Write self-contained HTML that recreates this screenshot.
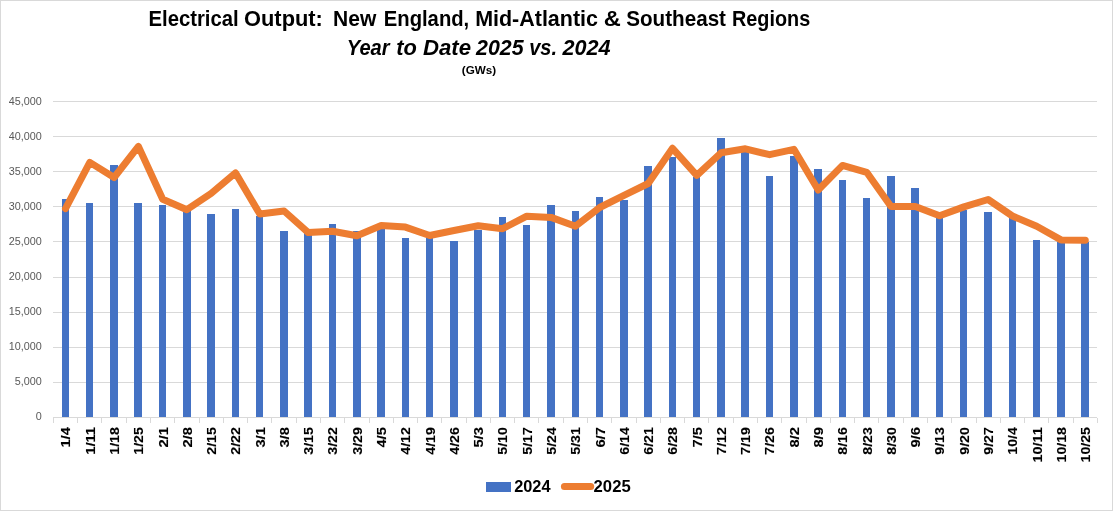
<!DOCTYPE html>
<html lang="en">
<head>
<meta charset="utf-8">
<title>Electrical Output: New England, Mid-Atlantic &amp; Southeast Regions</title>
<style>
html,body{margin:0;padding:0;background:#fff;}
body{width:1113px;height:511px;overflow:hidden;}
svg{display:block;font-family:"Liberation Sans", sans-serif;}
.t1{font-weight:700;font-size:22px;fill:#000;}
.t2{font-weight:700;font-style:italic;font-size:22px;fill:#000;}
.t3{font-weight:700;font-size:11px;fill:#000;}
.yl{font-size:10.8px;fill:#595959;text-anchor:end;}
.xl{font-weight:700;font-size:12.6px;fill:#000;text-anchor:end;stroke:#000;stroke-width:0.12px;}
.lg{font-weight:700;font-size:15.8px;fill:#000;}
</style>
</head>
<body>
<svg width="1113" height="511" viewBox="0 0 1113 511">
<rect x="0" y="0" width="1113" height="511" fill="#ffffff"/>
<rect x="0.5" y="0.5" width="1112" height="510" fill="none" stroke="#D9D9D9" stroke-width="1"/>
<g stroke="#D9D9D9" stroke-width="1" shape-rendering="crispEdges">
<line x1="53.4" y1="101.5" x2="1097.4" y2="101.5"/>
<line x1="53.4" y1="136.5" x2="1097.4" y2="136.5"/>
<line x1="53.4" y1="171.5" x2="1097.4" y2="171.5"/>
<line x1="53.4" y1="206.5" x2="1097.4" y2="206.5"/>
<line x1="53.4" y1="241.5" x2="1097.4" y2="241.5"/>
<line x1="53.4" y1="277.5" x2="1097.4" y2="277.5"/>
<line x1="53.4" y1="312.5" x2="1097.4" y2="312.5"/>
<line x1="53.4" y1="347.5" x2="1097.4" y2="347.5"/>
<line x1="53.4" y1="382.5" x2="1097.4" y2="382.5"/>
<line x1="53.4" y1="417.5" x2="1097.4" y2="417.5"/>
<line x1="53.5" y1="417.5" x2="53.5" y2="423.0"/>
<line x1="77.5" y1="417.5" x2="77.5" y2="423.0"/>
<line x1="101.5" y1="417.5" x2="101.5" y2="423.0"/>
<line x1="126.5" y1="417.5" x2="126.5" y2="423.0"/>
<line x1="150.5" y1="417.5" x2="150.5" y2="423.0"/>
<line x1="174.5" y1="417.5" x2="174.5" y2="423.0"/>
<line x1="199.5" y1="417.5" x2="199.5" y2="423.0"/>
<line x1="223.5" y1="417.5" x2="223.5" y2="423.0"/>
<line x1="247.5" y1="417.5" x2="247.5" y2="423.0"/>
<line x1="271.5" y1="417.5" x2="271.5" y2="423.0"/>
<line x1="296.5" y1="417.5" x2="296.5" y2="423.0"/>
<line x1="320.5" y1="417.5" x2="320.5" y2="423.0"/>
<line x1="344.5" y1="417.5" x2="344.5" y2="423.0"/>
<line x1="369.5" y1="417.5" x2="369.5" y2="423.0"/>
<line x1="393.5" y1="417.5" x2="393.5" y2="423.0"/>
<line x1="417.5" y1="417.5" x2="417.5" y2="423.0"/>
<line x1="441.5" y1="417.5" x2="441.5" y2="423.0"/>
<line x1="466.5" y1="417.5" x2="466.5" y2="423.0"/>
<line x1="490.5" y1="417.5" x2="490.5" y2="423.0"/>
<line x1="514.5" y1="417.5" x2="514.5" y2="423.0"/>
<line x1="538.5" y1="417.5" x2="538.5" y2="423.0"/>
<line x1="563.5" y1="417.5" x2="563.5" y2="423.0"/>
<line x1="587.5" y1="417.5" x2="587.5" y2="423.0"/>
<line x1="611.5" y1="417.5" x2="611.5" y2="423.0"/>
<line x1="636.5" y1="417.5" x2="636.5" y2="423.0"/>
<line x1="660.5" y1="417.5" x2="660.5" y2="423.0"/>
<line x1="684.5" y1="417.5" x2="684.5" y2="423.0"/>
<line x1="708.5" y1="417.5" x2="708.5" y2="423.0"/>
<line x1="733.5" y1="417.5" x2="733.5" y2="423.0"/>
<line x1="757.5" y1="417.5" x2="757.5" y2="423.0"/>
<line x1="781.5" y1="417.5" x2="781.5" y2="423.0"/>
<line x1="806.5" y1="417.5" x2="806.5" y2="423.0"/>
<line x1="830.5" y1="417.5" x2="830.5" y2="423.0"/>
<line x1="854.5" y1="417.5" x2="854.5" y2="423.0"/>
<line x1="878.5" y1="417.5" x2="878.5" y2="423.0"/>
<line x1="903.5" y1="417.5" x2="903.5" y2="423.0"/>
<line x1="927.5" y1="417.5" x2="927.5" y2="423.0"/>
<line x1="951.5" y1="417.5" x2="951.5" y2="423.0"/>
<line x1="976.5" y1="417.5" x2="976.5" y2="423.0"/>
<line x1="1000.5" y1="417.5" x2="1000.5" y2="423.0"/>
<line x1="1024.5" y1="417.5" x2="1024.5" y2="423.0"/>
<line x1="1048.5" y1="417.5" x2="1048.5" y2="423.0"/>
<line x1="1073.5" y1="417.5" x2="1073.5" y2="423.0"/>
<line x1="1097.5" y1="417.5" x2="1097.5" y2="423.0"/>
</g>
<g fill="#4472C4" shape-rendering="crispEdges">
<rect x="61.65" y="199.0" width="7.5" height="218.0"/>
<rect x="85.93" y="203.0" width="7.5" height="214.0"/>
<rect x="110.21" y="165.2" width="7.5" height="251.8"/>
<rect x="134.49" y="203.0" width="7.5" height="214.0"/>
<rect x="158.77" y="204.9" width="7.5" height="212.1"/>
<rect x="183.05" y="211.0" width="7.5" height="206.0"/>
<rect x="207.32" y="213.8" width="7.5" height="203.2"/>
<rect x="231.60" y="209.1" width="7.5" height="207.9"/>
<rect x="255.88" y="215.7" width="7.5" height="201.3"/>
<rect x="280.16" y="231.2" width="7.5" height="185.8"/>
<rect x="304.44" y="233.3" width="7.5" height="183.7"/>
<rect x="328.72" y="224.2" width="7.5" height="192.8"/>
<rect x="353.00" y="230.9" width="7.5" height="186.1"/>
<rect x="377.28" y="228.0" width="7.5" height="189.0"/>
<rect x="401.56" y="238.0" width="7.5" height="179.0"/>
<rect x="425.84" y="236.9" width="7.5" height="180.1"/>
<rect x="450.12" y="241.1" width="7.5" height="175.9"/>
<rect x="474.39" y="229.5" width="7.5" height="187.5"/>
<rect x="498.67" y="217.1" width="7.5" height="199.9"/>
<rect x="522.95" y="225.1" width="7.5" height="191.9"/>
<rect x="547.23" y="205.2" width="7.5" height="211.8"/>
<rect x="571.51" y="211.3" width="7.5" height="205.7"/>
<rect x="595.79" y="197.2" width="7.5" height="219.8"/>
<rect x="620.07" y="200.0" width="7.5" height="217.0"/>
<rect x="644.35" y="165.9" width="7.5" height="251.1"/>
<rect x="668.63" y="157.0" width="7.5" height="260.0"/>
<rect x="692.91" y="176.5" width="7.5" height="240.5"/>
<rect x="717.18" y="138.0" width="7.5" height="279.0"/>
<rect x="741.46" y="151.6" width="7.5" height="265.4"/>
<rect x="765.74" y="176.0" width="7.5" height="241.0"/>
<rect x="790.02" y="155.8" width="7.5" height="261.2"/>
<rect x="814.30" y="169.0" width="7.5" height="248.0"/>
<rect x="838.58" y="180.0" width="7.5" height="237.0"/>
<rect x="862.86" y="198.1" width="7.5" height="218.9"/>
<rect x="887.14" y="176.0" width="7.5" height="241.0"/>
<rect x="911.42" y="188.0" width="7.5" height="229.0"/>
<rect x="935.70" y="216.0" width="7.5" height="201.0"/>
<rect x="959.98" y="209.6" width="7.5" height="207.4"/>
<rect x="984.25" y="212.2" width="7.5" height="204.8"/>
<rect x="1008.53" y="218.0" width="7.5" height="199.0"/>
<rect x="1032.81" y="240.0" width="7.5" height="177.0"/>
<rect x="1057.09" y="241.5" width="7.5" height="175.5"/>
<rect x="1081.37" y="242.0" width="7.5" height="175.0"/>
</g>
<polyline fill="none" stroke="#ED7D31" stroke-width="7" stroke-linejoin="round" stroke-linecap="round" points="65.5,208.7 89.8,162.4 114.1,177.5 138.4,146.4 162.7,199.3 186.9,209.7 211.2,193.4 235.5,172.9 259.8,214.0 284.1,211.0 308.3,232.6 332.6,231.3 356.9,235.7 381.2,225.5 405.4,227.1 429.7,235.5 454.0,230.5 478.3,225.7 502.6,228.7 526.8,216.2 551.1,217.4 575.4,226.2 599.7,207.5 624.0,195.3 648.2,183.5 672.5,148.3 696.8,175.4 721.1,152.8 745.4,148.8 769.6,154.7 793.9,149.3 818.2,190.0 842.5,165.4 866.7,172.3 891.0,206.5 915.3,206.5 939.6,215.8 963.9,206.9 988.1,199.5 1012.4,216.0 1036.7,226.3 1061.0,239.9 1085.3,240.2"/>
<text class="yl" x="41.7" y="105.2">45,000</text>
<text class="yl" x="41.7" y="140.2">40,000</text>
<text class="yl" x="41.7" y="175.1">35,000</text>
<text class="yl" x="41.7" y="210.1">30,000</text>
<text class="yl" x="41.7" y="245.1">25,000</text>
<text class="yl" x="41.7" y="280.1">20,000</text>
<text class="yl" x="41.7" y="315.0">15,000</text>
<text class="yl" x="41.7" y="350.0">10,000</text>
<text class="yl" x="41.7" y="385.0">5,000</text>
<text class="yl" x="41.7" y="419.9">0</text>
<text class="xl" transform="translate(70.3 427.2) rotate(-90)" textLength="20.4" lengthAdjust="spacingAndGlyphs">1/4</text>
<text class="xl" transform="translate(94.6 427.2) rotate(-90)" textLength="27.5" lengthAdjust="spacingAndGlyphs">1/11</text>
<text class="xl" transform="translate(118.9 427.2) rotate(-90)" textLength="27.5" lengthAdjust="spacingAndGlyphs">1/18</text>
<text class="xl" transform="translate(143.2 427.2) rotate(-90)" textLength="27.5" lengthAdjust="spacingAndGlyphs">1/25</text>
<text class="xl" transform="translate(167.5 427.2) rotate(-90)" textLength="20.4" lengthAdjust="spacingAndGlyphs">2/1</text>
<text class="xl" transform="translate(191.7 427.2) rotate(-90)" textLength="20.4" lengthAdjust="spacingAndGlyphs">2/8</text>
<text class="xl" transform="translate(216.0 427.2) rotate(-90)" textLength="27.5" lengthAdjust="spacingAndGlyphs">2/15</text>
<text class="xl" transform="translate(240.3 427.2) rotate(-90)" textLength="27.5" lengthAdjust="spacingAndGlyphs">2/22</text>
<text class="xl" transform="translate(264.6 427.2) rotate(-90)" textLength="20.4" lengthAdjust="spacingAndGlyphs">3/1</text>
<text class="xl" transform="translate(288.9 427.2) rotate(-90)" textLength="20.4" lengthAdjust="spacingAndGlyphs">3/8</text>
<text class="xl" transform="translate(313.1 427.2) rotate(-90)" textLength="27.5" lengthAdjust="spacingAndGlyphs">3/15</text>
<text class="xl" transform="translate(337.4 427.2) rotate(-90)" textLength="27.5" lengthAdjust="spacingAndGlyphs">3/22</text>
<text class="xl" transform="translate(361.7 427.2) rotate(-90)" textLength="27.5" lengthAdjust="spacingAndGlyphs">3/29</text>
<text class="xl" transform="translate(386.0 427.2) rotate(-90)" textLength="20.4" lengthAdjust="spacingAndGlyphs">4/5</text>
<text class="xl" transform="translate(410.2 427.2) rotate(-90)" textLength="27.5" lengthAdjust="spacingAndGlyphs">4/12</text>
<text class="xl" transform="translate(434.5 427.2) rotate(-90)" textLength="27.5" lengthAdjust="spacingAndGlyphs">4/19</text>
<text class="xl" transform="translate(458.8 427.2) rotate(-90)" textLength="27.5" lengthAdjust="spacingAndGlyphs">4/26</text>
<text class="xl" transform="translate(483.1 427.2) rotate(-90)" textLength="20.4" lengthAdjust="spacingAndGlyphs">5/3</text>
<text class="xl" transform="translate(507.4 427.2) rotate(-90)" textLength="27.5" lengthAdjust="spacingAndGlyphs">5/10</text>
<text class="xl" transform="translate(531.6 427.2) rotate(-90)" textLength="27.5" lengthAdjust="spacingAndGlyphs">5/17</text>
<text class="xl" transform="translate(555.9 427.2) rotate(-90)" textLength="27.5" lengthAdjust="spacingAndGlyphs">5/24</text>
<text class="xl" transform="translate(580.2 427.2) rotate(-90)" textLength="27.5" lengthAdjust="spacingAndGlyphs">5/31</text>
<text class="xl" transform="translate(604.5 427.2) rotate(-90)" textLength="20.4" lengthAdjust="spacingAndGlyphs">6/7</text>
<text class="xl" transform="translate(628.8 427.2) rotate(-90)" textLength="27.5" lengthAdjust="spacingAndGlyphs">6/14</text>
<text class="xl" transform="translate(653.0 427.2) rotate(-90)" textLength="27.5" lengthAdjust="spacingAndGlyphs">6/21</text>
<text class="xl" transform="translate(677.3 427.2) rotate(-90)" textLength="27.5" lengthAdjust="spacingAndGlyphs">6/28</text>
<text class="xl" transform="translate(701.6 427.2) rotate(-90)" textLength="20.4" lengthAdjust="spacingAndGlyphs">7/5</text>
<text class="xl" transform="translate(725.9 427.2) rotate(-90)" textLength="27.5" lengthAdjust="spacingAndGlyphs">7/12</text>
<text class="xl" transform="translate(750.2 427.2) rotate(-90)" textLength="27.5" lengthAdjust="spacingAndGlyphs">7/19</text>
<text class="xl" transform="translate(774.4 427.2) rotate(-90)" textLength="27.5" lengthAdjust="spacingAndGlyphs">7/26</text>
<text class="xl" transform="translate(798.7 427.2) rotate(-90)" textLength="20.4" lengthAdjust="spacingAndGlyphs">8/2</text>
<text class="xl" transform="translate(823.0 427.2) rotate(-90)" textLength="20.4" lengthAdjust="spacingAndGlyphs">8/9</text>
<text class="xl" transform="translate(847.3 427.2) rotate(-90)" textLength="27.5" lengthAdjust="spacingAndGlyphs">8/16</text>
<text class="xl" transform="translate(871.5 427.2) rotate(-90)" textLength="27.5" lengthAdjust="spacingAndGlyphs">8/23</text>
<text class="xl" transform="translate(895.8 427.2) rotate(-90)" textLength="27.5" lengthAdjust="spacingAndGlyphs">8/30</text>
<text class="xl" transform="translate(920.1 427.2) rotate(-90)" textLength="20.4" lengthAdjust="spacingAndGlyphs">9/6</text>
<text class="xl" transform="translate(944.4 427.2) rotate(-90)" textLength="27.5" lengthAdjust="spacingAndGlyphs">9/13</text>
<text class="xl" transform="translate(968.7 427.2) rotate(-90)" textLength="27.5" lengthAdjust="spacingAndGlyphs">9/20</text>
<text class="xl" transform="translate(992.9 427.2) rotate(-90)" textLength="27.5" lengthAdjust="spacingAndGlyphs">9/27</text>
<text class="xl" transform="translate(1017.2 427.2) rotate(-90)" textLength="27.5" lengthAdjust="spacingAndGlyphs">10/4</text>
<text class="xl" transform="translate(1041.5 427.2) rotate(-90)" textLength="35.2" lengthAdjust="spacingAndGlyphs">10/11</text>
<text class="xl" transform="translate(1065.8 427.2) rotate(-90)" textLength="35.2" lengthAdjust="spacingAndGlyphs">10/18</text>
<text class="xl" transform="translate(1090.1 427.2) rotate(-90)" textLength="35.2" lengthAdjust="spacingAndGlyphs">10/25</text>
<text class="t1" y="26.3"><tspan x="148.50" textLength="90.17" lengthAdjust="spacingAndGlyphs">Electrical</tspan> <tspan x="244.06" textLength="78.80" lengthAdjust="spacingAndGlyphs">Output:</tspan> <tspan x="333.11" textLength="43.23" lengthAdjust="spacingAndGlyphs">New</tspan> <tspan x="383.79" textLength="85.44" lengthAdjust="spacingAndGlyphs">England,</tspan> <tspan x="475.16" textLength="122.77" lengthAdjust="spacingAndGlyphs">Mid-Atlantic</tspan> <tspan x="603.80" textLength="17.07" lengthAdjust="spacingAndGlyphs">&amp;</tspan> <tspan x="626.24" textLength="99.76" lengthAdjust="spacingAndGlyphs">Southeast</tspan> <tspan x="732.00" textLength="78.17" lengthAdjust="spacingAndGlyphs">Regions</tspan></text>
<text class="t2" y="55.0"><tspan x="346.80" textLength="42.81" lengthAdjust="spacingAndGlyphs">Year</tspan> <tspan x="396.28" textLength="20.60" lengthAdjust="spacingAndGlyphs">to</tspan> <tspan x="423.00" textLength="48.10" lengthAdjust="spacingAndGlyphs">Date</tspan> <tspan x="476.03" textLength="47.57" lengthAdjust="spacingAndGlyphs">2025</tspan> <tspan x="529.18" textLength="27.83" lengthAdjust="spacingAndGlyphs">vs.</tspan> <tspan x="562.47" textLength="48.18" lengthAdjust="spacingAndGlyphs">2024</tspan></text>
<text class="t3" x="461.80" y="73.8" textLength="34.40" lengthAdjust="spacingAndGlyphs">(GWs)</text>
<text class="lg" x="514.20" y="491.7" textLength="36.38" lengthAdjust="spacingAndGlyphs">2024</text>
<text class="lg" x="593.58" y="491.7" textLength="37.14" lengthAdjust="spacingAndGlyphs">2025</text>
<rect x="486" y="482" width="25" height="10" fill="#4472C4" shape-rendering="crispEdges"/>
<line x1="564.4" y1="486.4" x2="590.7" y2="486.4" stroke="#ED7D31" stroke-width="7" stroke-linecap="round"/>
</svg>
</body>
</html>
